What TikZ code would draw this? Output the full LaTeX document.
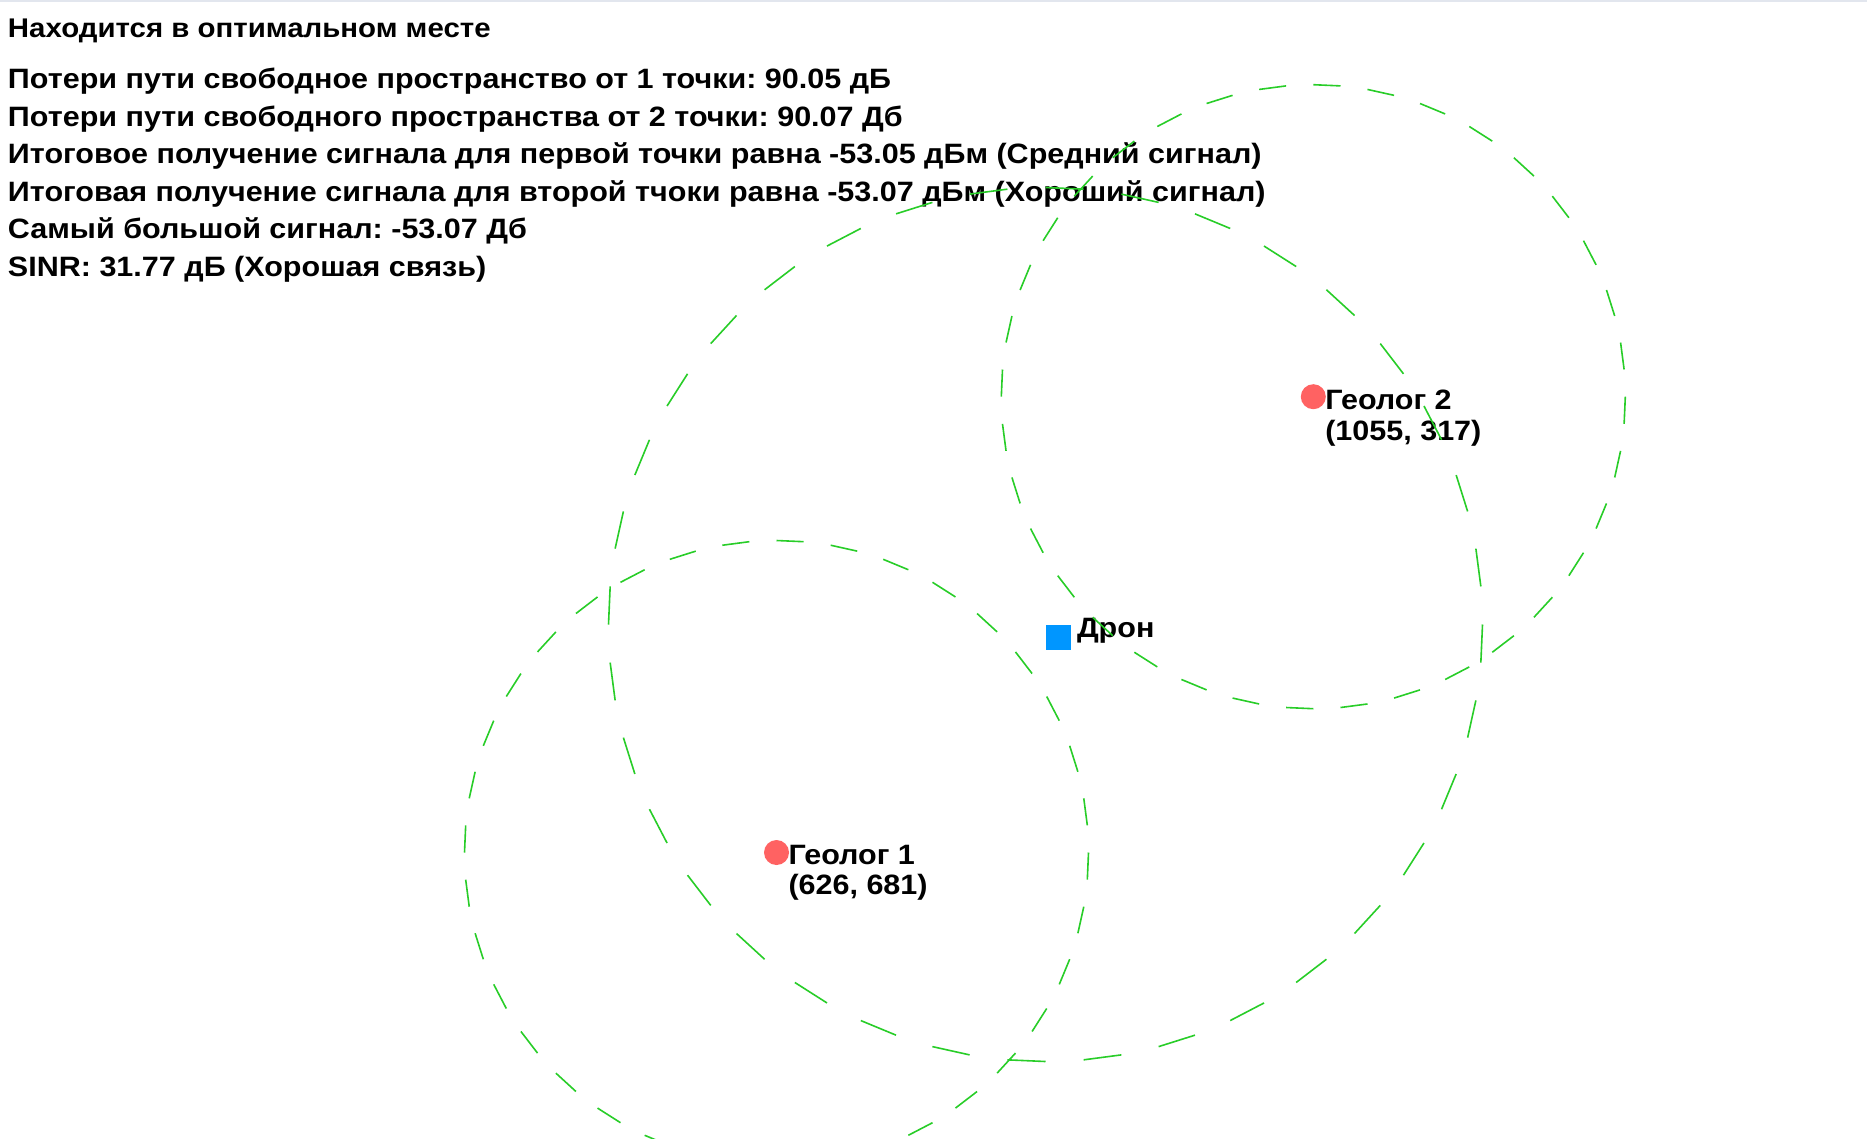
\documentclass[tikz,border=0pt]{standalone}
\usepackage{fontspec}
\setmainfont[FakeStretch=1.09]{Liberation Sans}
\usetikzlibrary{positioning}
\usetikzlibrary{calc}
\definecolor{ring colour}{RGB}{40,205,40}
\definecolor{geolog colour}{RGB}{255,98,98}
\definecolor{drone colour}{RGB}{0,150,255}
\definecolor{frame colour}{RGB}{226,230,238}
\frenchspacing
\tikzset{
    % All text is bold sans, placed on its baseline
    every node/.style={inner sep=0, outer sep=0},
    info/.style={anchor=base west, font=\fontsize{28}{30}\selectfont\bfseries},
    title info/.style={info, font=\fontsize{27}{30}\selectfont\bfseries},
%
    % Markers for the people and the drone
    geolog dot/.style={circle, fill=geolog colour, minimum size=25pt},
    drone box/.style={rectangle, fill=drone colour, minimum size=25pt,
        anchor=north west},
%
    % Coverage rings: short chords, 5 degrees on and 5 off
    ring/.style={ring colour, line width=1.6pt},
}
\newcommand\dashring[2]{%
    \foreach \a in {0,10,...,350}
        \draw [ring] ($(#1)+(\a:#2)$) -- ($(#1)+(\a+5:#2)$);}

\begin{document}
\begin{tikzpicture}[
    x=1pt, y=-1pt]

\useasboundingbox (0,0) rectangle (1867,1138);
\draw [frame colour, line width=2pt] (0,1) -- (1867,1);

% Status lines
\path
    (8,37) node [title info] (status) {Находится в оптимальном месте}
    (8,88.5) node [info] (loss one) {Потери пути свободное пространство от 1 точки: 90.05 дБ}
    ++(0,37.5) node [info] (loss two) {Потери пути свободного пространства от 2 точки: 90.07 Дб}
    ++(0,37.5) node [info] (rx one) {Итоговое получение сигнала для первой точки равна -53.05 дБм (Средний сигнал)}
    ++(0,37.5) node [info] (rx two) {Итоговая получение сигнала для второй тчоки равна -53.07 дБм (Хороший сигнал)}
    ++(0,37.5) node [info] (best) {Самый большой сигнал: -53.07 Дб}
    ++(0,37.5) node [info] (sinr) {SINR: 31.77 дБ (Хорошая связь)};

% Geologists and drone
\path
    (776.5,852.5) node [geolog dot] (geolog1) {}
    ++(12,11.5) node [info] (geolog1 name) {Геолог 1}
    ++(0,30) node [info] (geolog1 xy) {(626, 681)}
    (1313.3,396.7) node [geolog dot] (geolog2) {}
    ++(12,12.3) node [info] (geolog2 name) {Геолог 2}
    ++(0,31) node [info] (geolog2 xy) {(1055, 317)}
    (1045.5,624.5) node [drone box] (drone) {}
    ++(31.5,12.5) node [info] (drone name) {Дрон};

\dashring{geolog1.center}{312}
\dashring{geolog2.center}{312}
\dashring{drone.north west}{437}

\end{tikzpicture}
\end{document}
